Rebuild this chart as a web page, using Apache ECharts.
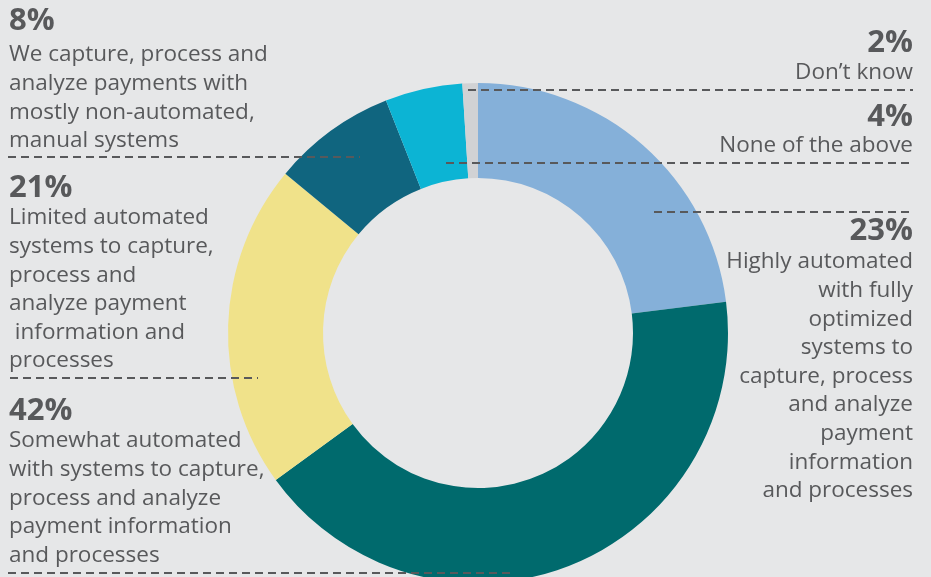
<!DOCTYPE html>
<html>
<head>
<meta charset="utf-8">
<script src="https://cdn.jsdelivr.net/npm/echarts@6/dist/echarts.min.js"></script>
<style>
  html, body { margin: 0; padding: 0; background: #e6e7e8; }
  #chart { width: 931px; height: 577px; }
</style>
</head>
<body>
<div id="chart"></div>
<script>
// slice order: clockwise from 12 o'clock
const categories = [
  'Highly automated',
  'Somewhat automated',
  'Limited automated',
  'Mostly manual',
  'None of the above',
  "Don't know",
]
// slice sizes as drawn in the picture
const sliceValues = [23, 42, 21, 8, 5, 1]
// percentages as printed in the labels
const printedPcts = ['23%', '42%', '21%', '8%', '4%', '2%']
const descriptions = [
  'Highly automated\nwith fully\noptimized\nsystems to\ncapture, process\nand analyze\npayment\ninformation\nand processes',
  'Somewhat automated\nwith systems to capture,\nprocess and analyze\npayment information\nand processes',
  'Limited automated\nsystems to capture,\nprocess and\nanalyze payment\n information and\nprocesses',
  'We capture, process and\nanalyze payments with\nmostly non-automated,\nmanual systems',
  'None of the above',
  'Don\u2019t know',
]
const colors = ['#85b0d9', '#006a6d', '#f0e28a', '#10657f', '#0cb4d4', '#d1d2d4']

const textColor = '#58595b'
const font = '"Open Sans", sans-serif'
const lineH = 28.6

// label blocks: [index, x, pctCenterY, bodyFirstCenterY, align]
const blocks = [
  [3, 9, 21, 55, 'left'],
  [2, 9, 188, 218, 'left'],
  [1, 9, 411, 441, 'left'],
  [5, 913, 43, 73, 'right'],
  [4, 913, 117, 146, 'right'],
  [0, 913, 231, 262, 'right'],
]
// dashed leader lines: [x1, x2, y]
const leaders = [
  [8, 360, 157],
  [10, 258, 378],
  [8, 512, 573],
  [468, 913, 90],
  [446, 913, 163],
  [654, 913, 212],
]

const chart = echarts.init(document.getElementById('chart'))

const graphics = []
blocks.forEach(([i, x, py, by, align]) => {
  graphics.push({
    type: 'text',
    x: x,
    y: py,
    z: 10,
    style: {
      text: printedPcts[i],
      font: 'bold 31px ' + font,
      fill: textColor,
      textAlign: align,
      textVerticalAlign: 'middle',
    },
  })
  graphics.push({
    type: 'text',
    x: x,
    y: by - lineH / 2,
    z: 10,
    style: {
      text: descriptions[i],
      font: '22.5px ' + font,
      fill: textColor,
      textAlign: align,
      textVerticalAlign: 'top',
      lineHeight: lineH,
    },
  })
})
leaders.forEach(([x1, x2, y]) => {
  graphics.push({
    type: 'line',
    z: 20,
    shape: { x1: x1, y1: y, x2: x2, y2: y },
    style: { stroke: textColor, lineWidth: 2, lineDash: [8, 5] },
  })
})

chart.setOption({
  backgroundColor: '#e6e7e8',
  animation: false,
  graphic: graphics,
  series: [
    {
      type: 'pie',
      center: [478, 333],
      radius: [155, 250],
      startAngle: 90,
      clockwise: true,
      label: { show: false },
      labelLine: { show: false },
      itemStyle: { borderWidth: 0 },
      data: categories.map((c, i) => ({
        name: c,
        value: sliceValues[i],
        itemStyle: { color: colors[i] },
      })),
    },
  ],
})
</script>
</body>
</html>
